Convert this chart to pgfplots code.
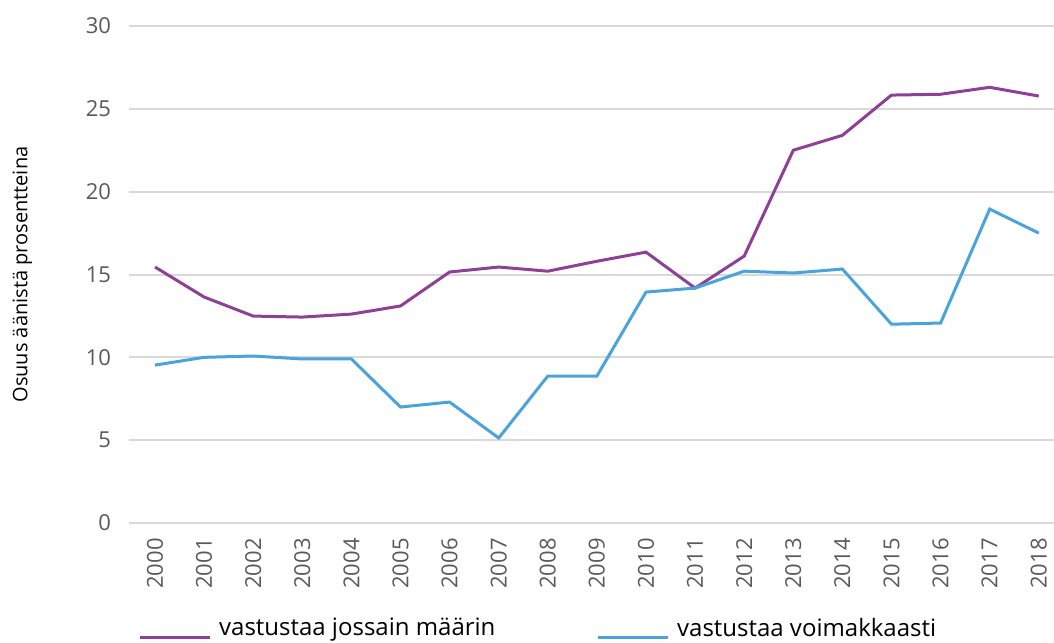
\documentclass[border=0pt]{standalone}
\usepackage{pgfplots}
\pgfplotsset{compat=1.18}
\usepackage{fontspec}
\setmainfont{Open Sans}
\definecolor{cpurple}{HTML}{8E3F96}
\definecolor{cblue}{HTML}{4BA3DB}
\definecolor{cgrid}{HTML}{D9D9D9}
\definecolor{ctick}{HTML}{595959}
\begin{document}
\begin{tikzpicture}
\useasboundingbox (-96.75pt,-90pt) rectangle (693.75pt,392.25pt);
\begin{axis}[
  at={(0,0)}, anchor=south west,
  scale only axis,
  width=693.75pt, height=372.75pt,
  xmin=1999.47, xmax=2018.31,
  ymin=0, ymax=30,
  axis line style={draw=none},
  xtick={2000,...,2018},
  ytick={0,5,...,30},
  major tick length=0pt,
  ymajorgrids,
  grid style={cgrid, line width=1.5pt},
  x tick label style={rotate=90, anchor=east, font=\fontsize{16.5}{16.5}\selectfont, text=ctick},
  y tick label style={font=\fontsize{16.5}{16.5}\selectfont, text=ctick},
  /pgf/number format/assume math mode=true,
  xticklabel={\pgfmathprintnumber[1000 sep=,fixed]{\tick}},
  yticklabel={\pgfmathprintnumber{\tick}},
  xtick pos=bottom,
  xticklabel shift=8pt,
  yticklabel shift=10pt,
  ylabel={Osuus äänistä prosentteina},
  every axis y label/.style={at={(rel axis cs:0,0.5)}, xshift=-80pt, rotate=90, anchor=center,
    font=\fontsize{15}{15}\selectfont, text=black},
  legend columns=2,
  legend style={draw=none, fill=none, at={(rel axis cs:0.006,0)}, anchor=north west, yshift=-67pt,
    font=\fontsize{18}{18}\selectfont,
    /tikz/every odd column/.append style={column sep=4pt},
    /tikz/every even column/.append style={column sep=74pt}},
  legend cell align=left,
  legend image code/.code={\draw[#1, line width=2.25pt] (0pt,-7pt) -- (52pt,-7pt);},
]
\addplot[cpurple, line width=2.25pt] coordinates {
(2000,15.45) (2001,13.64) (2002,12.49) (2003,12.43) (2004,12.61) (2005,13.1)
(2006,15.15) (2007,15.45) (2008,15.2) (2009,15.8) (2010,16.35) (2011,14.18)
(2012,16.11) (2013,22.5) (2014,23.4) (2015,25.83) (2016,25.88) (2017,26.3) (2018,25.77)};
\addlegendentry{vastustaa jossain määrin}
\addplot[cblue, line width=2.25pt] coordinates {
(2000,9.53) (2001,10.0) (2002,10.08) (2003,9.9) (2004,9.9) (2005,7.0)
(2006,7.3) (2007,5.13) (2008,8.87) (2009,8.87) (2010,13.94) (2011,14.18)
(2012,15.2) (2013,15.09) (2014,15.33) (2015,12.0) (2016,12.07) (2017,18.95) (2018,17.5)};
\addlegendentry{vastustaa voimakkaasti}
\end{axis}
\end{tikzpicture}
\end{document}
